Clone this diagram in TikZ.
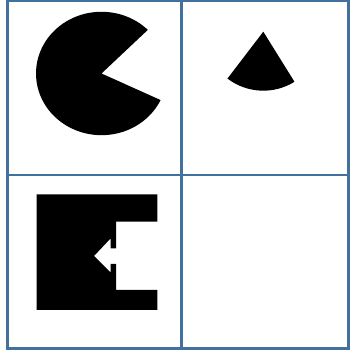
\documentclass[tikz,border=0pt]{standalone}
\definecolor{gridblue}{HTML}{41719C}
\begin{document}
\begin{tikzpicture}[x=1pt,y=1pt,
  gridline/.style={draw=gridblue,line width=2.8pt},
  shapefill/.style={fill=black}]
\useasboundingbox (0,0) rectangle (349,350);
\fill[white] (0,0) rectangle (349,350);
% black shapes
\coordinate (pc) at (101.5,276.5);
\fill[shapefill] (pc) -- ++(45:65.5 and 61.7) arc[start angle=45,end angle=334.5,x radius=65.5,y radius=61.7] -- cycle;
\coordinate (apex) at (263.3,318.3);
\fill[shapefill] (apex) -- ++(232.6:59) arc[start angle=232.6,end angle=301.9,radius=59] -- cycle;
\fill[shapefill] (36.7,155.7) -- (157.3,155.7) -- (157.3,128.3) -- (116,128.3) -- (116,101.7)
  -- (110.7,101.7) -- (110.7,111.7) -- (94,94) -- (110.7,77.3) -- (110.7,86) -- (116,86)
  -- (116,60) -- (157.3,60) -- (157.3,40) -- (36.7,40) -- cycle;
% grid
\coordinate (tl) at (7.7,349);
\coordinate (br) at (348.5,1.7);
\draw[gridline] (tl) rectangle (br);
\draw[gridline] (181.7,349) -- (181.7,1.7);
\draw[gridline] (7.7,175) -- (348.5,175);
\end{tikzpicture}
\end{document}
